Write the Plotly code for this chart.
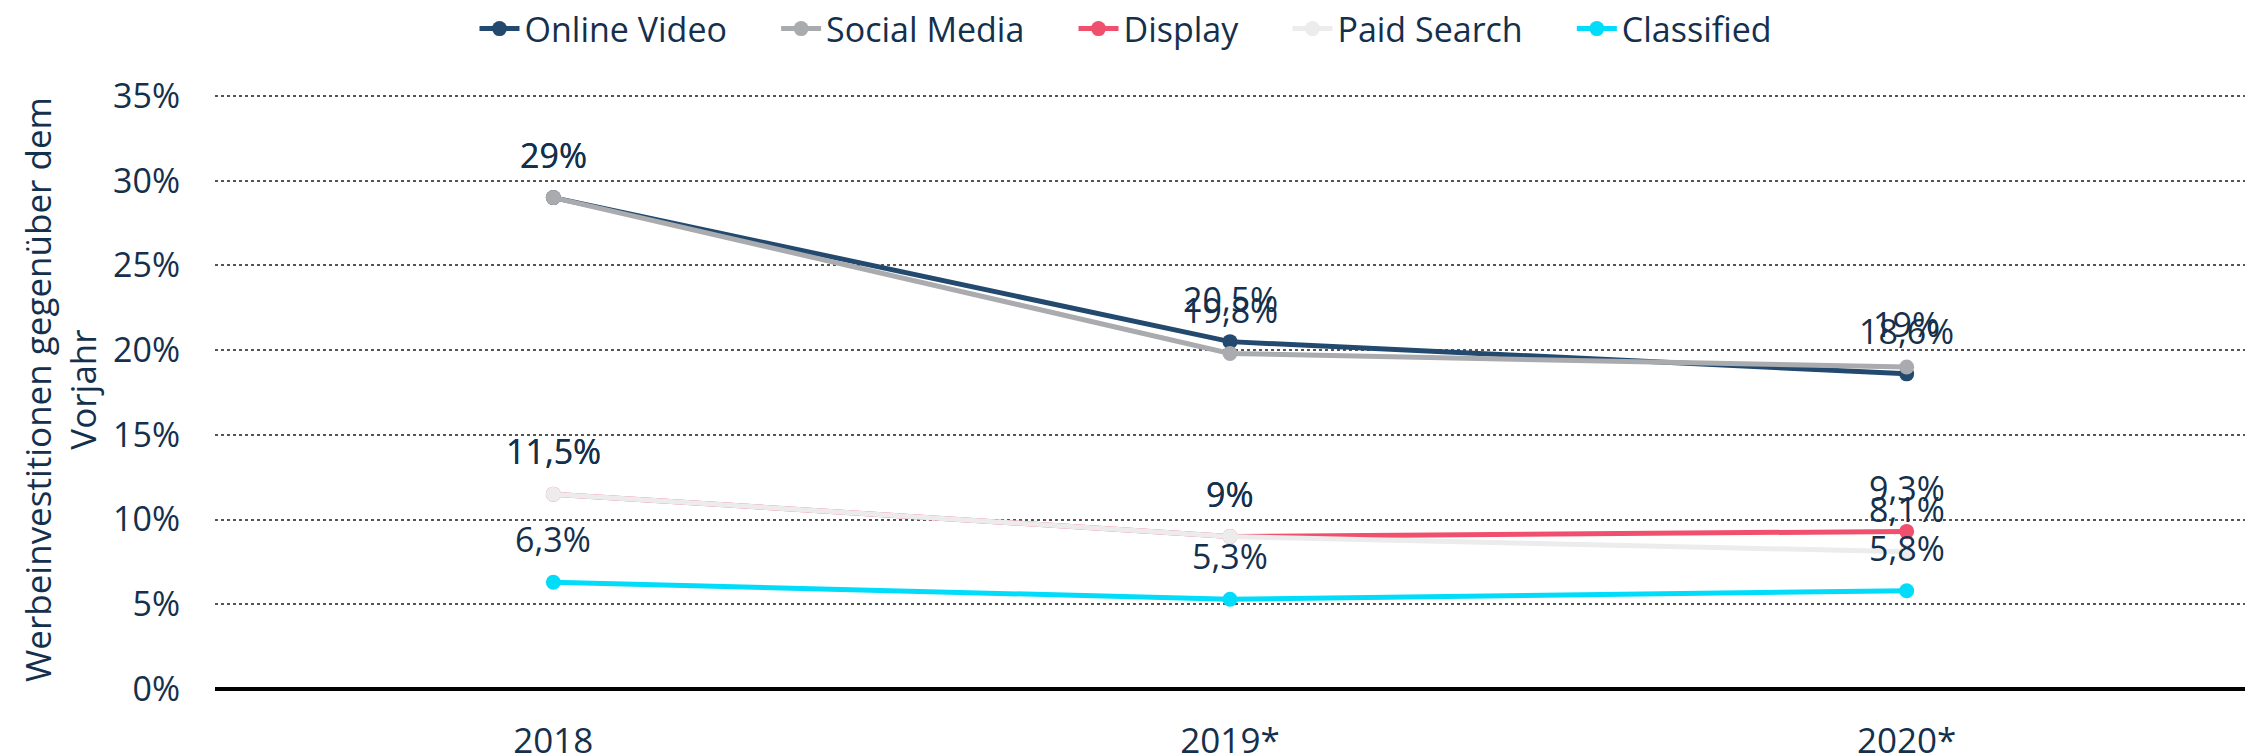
import plotly.graph_objects as go

years = ["2018", "2019*", "2020*"]
series_names = ["Online Video", "Social Media", "Display", "Paid Search", "Classified"]
online_video = [29, 20.5, 18.6]
social_media = [29, 19.8, 19]
display = [11.5, 9, 9.3]
paid_search = [11.5, 9, 8.1]
classified = [6.3, 5.3, 5.8]
colors = ["#234a6e", "#a9abae", "#f0506e", "#ececec", "#00dcfa"]
y_ticks = [0, 5, 10, 15, 20, 25, 30, 35]

all_values = [online_video, social_media, display, paid_search, classified]
FONT = "Open Sans"
TXT = "#14304d"
FS = 34

def fmt(v):
    s = ("%g" % v).replace(".", ",")
    return s + "%"

fig = go.Figure()
annotations = []
for k, (name, vals, col) in enumerate(zip(series_names, all_values, colors)):
    pad = "" if k == len(series_names) - 1 else "\u00a0" * 5
    fig.add_trace(go.Scatter(
        x=years, y=vals, name=name + pad, mode="lines+markers",
        line=dict(color=col, width=5),
        marker=dict(color=col, size=15),
    ))
    for i, v in enumerate(vals):
        annotations.append(dict(
            x=i, y=v, xref="x", yref="y", text=fmt(v), showarrow=False, yshift=43,
            font=dict(family=FONT, size=FS, color=TXT),
        ))

fig.update_layout(
    width=2252, height=756,
    margin=dict(l=215, r=7, t=90, b=67),
    paper_bgcolor="white", plot_bgcolor="white",
    font=dict(family=FONT, size=FS, color=TXT),
    annotations=annotations,
    showlegend=True,
    legend=dict(orientation="h", xref="container", x=0.5, xanchor="center",
                yref="container", y=1.0, yanchor="top",
                font=dict(family=FONT, size=FS, color=TXT),
                itemwidth=40, tracegroupgap=0),
    xaxis=dict(type="category", range=[-0.5, 2.5], showgrid=False, automargin=False,
               showline=False, ticks="", ticklabelstandoff=28,
               tickfont=dict(family=FONT, size=35, color=TXT)),
    yaxis=dict(range=[0, 35.35], tickvals=y_ticks, automargin=False,
               ticktext=[f"{t}%" for t in y_ticks],
               showgrid=True, gridcolor="#555555", griddash="dot", gridwidth=1.5,
               zeroline=True, zerolinecolor="#000000", zerolinewidth=4,
               ticks="", ticklabelstandoff=34,
               tickfont=dict(family=FONT, size=FS, color=TXT),
               title=dict(text="Werbeinvestitionen gegenüber dem<br>Vorjahr",
                          font=dict(family=FONT, size=35, color=TXT), standoff=5)),
)

fig.write_html("out.html")
